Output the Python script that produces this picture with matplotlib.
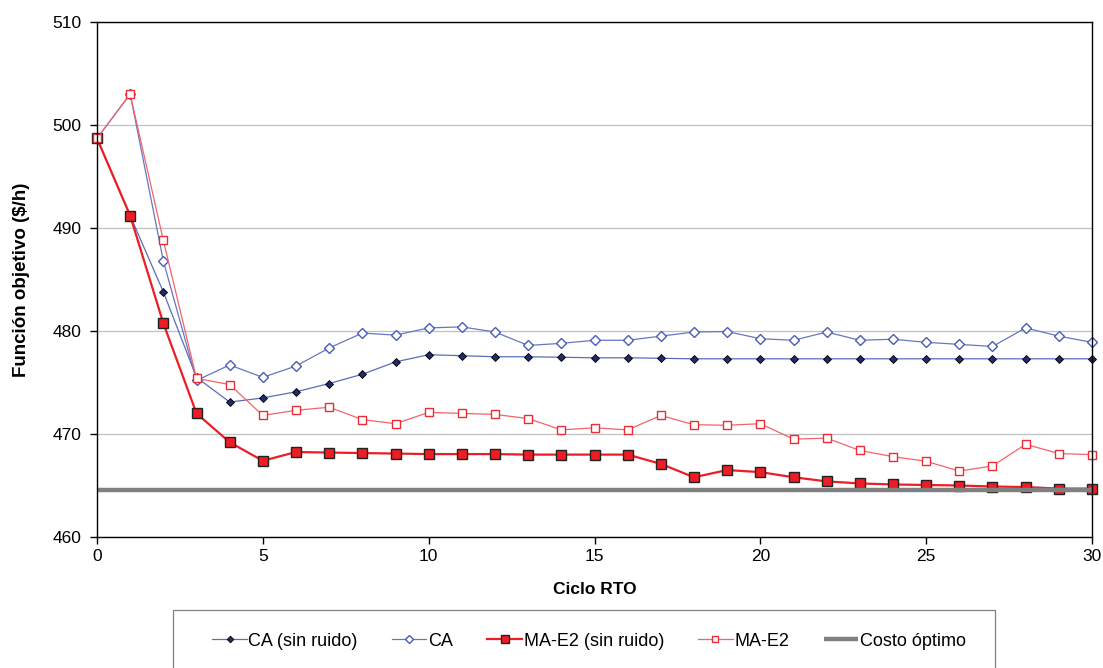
import numpy as np
import matplotlib
matplotlib.use("Agg")
import matplotlib.pyplot as plt
from matplotlib.patches import Rectangle

plt.rcParams['font.family'] = ['Liberation Sans', 'DejaVu Sans']

# Data
ciclos = list(range(31))
caSinRuido = [498.7, 491.2, 483.8, 475.5, 473.1, 473.5, 474.1, 474.9, 475.8, 477.0,
              477.7, 477.6, 477.5, 477.5, 477.45, 477.4, 477.4, 477.35, 477.3, 477.3,
              477.3, 477.3, 477.3, 477.3, 477.3, 477.3, 477.3, 477.3, 477.3, 477.3, 477.3]
caRuido = [498.7, 503.0, 486.8, 475.2, 476.7, 475.5, 476.6, 478.35, 479.8, 479.6,
           480.3, 480.4, 479.9, 478.6, 478.8, 479.1, 479.1, 479.5, 479.9, 479.95,
           479.25, 479.1, 479.9, 479.1, 479.2, 478.9, 478.7, 478.5, 480.3, 479.5, 478.9]
maSinRuido = [498.7, 491.2, 480.75, 472.0, 469.2, 467.4, 468.25, 468.2, 468.15, 468.1,
              468.05, 468.05, 468.05, 468.0, 468.0, 468.0, 468.0, 467.1, 465.8, 466.5,
              466.3, 465.8, 465.4, 465.2, 465.1, 465.05, 465.0, 464.9, 464.85, 464.7, 464.7]
maRuido = [498.7, 503.0, 488.8, 475.4, 474.8, 471.8, 472.3, 472.6, 471.4, 471.0,
           472.1, 472.0, 471.9, 471.5, 470.4, 470.6, 470.4, 471.8, 470.9, 470.85,
           471.0, 469.5, 469.6, 468.4, 467.8, 467.35, 466.4, 466.9, 469.0, 468.1, 468.0]
costoOptimo = 464.6

fig = plt.figure(figsize=(11.03, 6.68), dpi=100)
ax = fig.add_axes([97 / 1103, 1 - 537 / 668, (1092 - 97) / 1103, (537 - 22) / 668])

ax.plot(ciclos, caSinRuido, color='#5b6db8', lw=0.9, marker='D', ms=4.5,
        mfc='#1f2b6b', mec='black', mew=0.6, label='CA (sin ruido)', clip_on=False)
ax.plot(ciclos, caRuido, color='#6677c2', lw=0.9, marker='D', ms=5.5,
        mfc='white', mec='#4a5cb5', mew=1.0, label='CA', clip_on=False)
ax.plot(ciclos, maSinRuido, color='#ee1c25', lw=1.6, marker='s', ms=7,
        mfc='#ee1c25', mec='#222222', mew=1.0, label='MA-E2 (sin ruido)', clip_on=False)
ax.plot(ciclos, maRuido, color='#f2646b', lw=0.9, marker='s', ms=5.5,
        mfc='white', mec='#ee2a35', mew=1.0, label='MA-E2', clip_on=False)
ax.plot([ciclos[0], ciclos[-1]], [costoOptimo, costoOptimo], color='#808080', lw=3.2,
        label='Costo óptimo', solid_capstyle='butt')

ax.set_xlim(0, 30)
ax.set_ylim(460, 510)
ax.set_xticks(range(0, 31, 5))
ax.set_yticks(range(460, 511, 10))
ax.yaxis.grid(True, color='#c0c0c0', lw=0.9)
ax.set_axisbelow(True)
for s in ax.spines.values():
    s.set_color('black')
    s.set_linewidth(1.0)
ax.tick_params(direction='out', length=5, width=1, labelsize=12.5, colors='black')
ax.tick_params(axis='y', pad=6)

ax.set_xlabel('Ciclo RTO', fontsize=12.5, fontweight='bold', labelpad=13)
ax.set_ylabel('Función objetivo ($/h)', fontsize=13.5, fontweight='bold', labelpad=16)

# Legend box below the plot
fig.patches.append(Rectangle((173 / 1103, -0.05), (995 - 173) / 1103, 0.05 + (668 - 610) / 668,
                             transform=fig.transFigure, facecolor='white',
                             edgecolor='#808080', lw=0.9))
handles, labels = ax.get_legend_handles_labels()
fig.legend(handles, labels, loc='center', bbox_to_anchor=(589 / 1103, 1 - 641 / 668),
           ncol=5, frameon=False, fontsize=13, handlelength=1.9, handletextpad=0.1,
           columnspacing=1.9, markerscale=0.75)

fig.savefig('out.png', dpi=100)
